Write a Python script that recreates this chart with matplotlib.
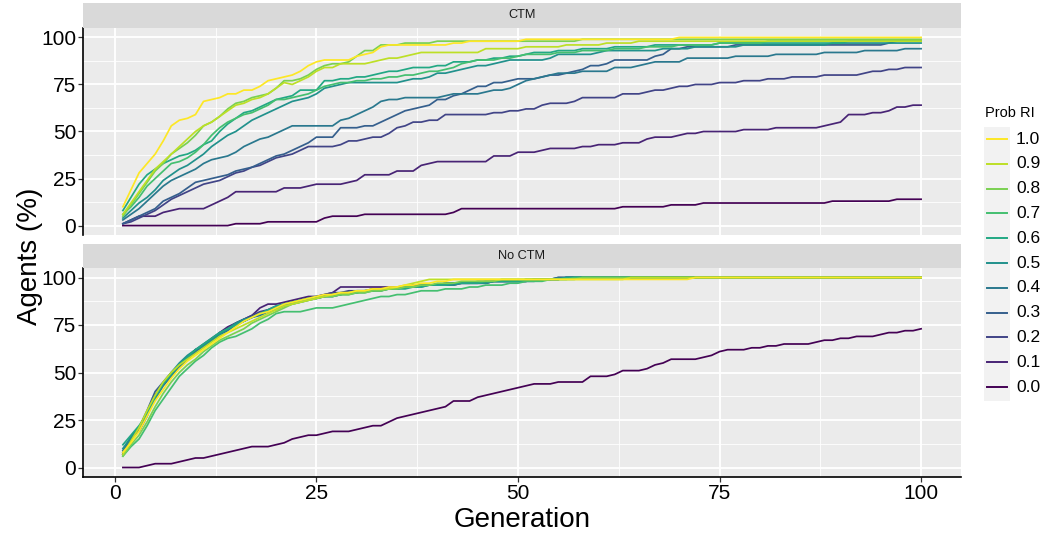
import numpy as np
import matplotlib.pyplot as plt
from matplotlib.lines import Line2D
from matplotlib.patches import Rectangle

plt.rcParams['font.family'] = ['Liberation Sans', 'DejaVu Sans']

generation = np.arange(1, 101)
prob_ri = ['0.0', '0.1', '0.2', '0.3', '0.4', '0.5', '0.6', '0.7', '0.8', '0.9', '1.0']
panel_names = ['CTM', 'No CTM']

# ---- CTM panel (values in % of agents, one per generation) ----
ctm_00 = [0, 0, 0, 0, 0, 0, 0, 0, 0, 0,
          0, 0, 0, 0, 1, 1, 1, 1, 2, 2,
          2, 2, 2, 2, 2, 4, 5, 5, 5, 5,
          6, 6, 6, 6, 6, 6, 6, 6, 6, 6,
          6, 7, 9, 9, 9, 9, 9, 9, 9, 9,
          9, 9, 9, 9, 9, 9, 9, 9, 9, 9,
          9, 9, 10, 10, 10, 10, 10, 10, 11, 11,
          11, 11, 12, 12, 12, 12, 12, 12, 12, 12,
          12, 12, 12, 12, 12, 12, 12, 12, 13, 13,
          13, 13, 13, 13, 13, 13, 14, 14, 14, 14]
ctm_01 = [1, 3, 5, 5, 5, 7, 8, 9, 9, 9,
          9, 11, 13, 15, 18, 18, 18, 18, 18, 18,
          20, 20, 20, 21, 22, 22, 22, 22, 23, 24,
          27, 27, 27, 27, 29, 29, 29, 32, 33, 34,
          34, 34, 34, 34, 34, 34, 37, 37, 37, 39,
          39, 39, 40, 41, 41, 41, 41, 42, 42, 43,
          43, 43, 44, 44, 44, 46, 47, 47, 47, 48,
          49, 49, 50, 50, 50, 50, 50, 51, 51, 51,
          51, 52, 52, 52, 52, 52, 52, 53, 54, 55,
          59, 59, 59, 60, 60, 61, 63, 63, 64, 64]
ctm_02 = [1, 2, 4, 6, 8, 11, 14, 16, 18, 20,
          22, 23, 24, 26, 28, 29, 31, 32, 34, 36,
          37, 38, 40, 42, 42, 42, 42, 43, 45, 45,
          46, 47, 47, 49, 52, 53, 55, 55, 56, 56,
          59, 59, 59, 59, 59, 59, 60, 60, 61, 61,
          62, 62, 64, 65, 65, 65, 66, 68, 68, 68,
          68, 68, 70, 70, 70, 71, 72, 72, 73, 74,
          74, 75, 75, 75, 76, 76, 76, 77, 77, 77,
          78, 78, 78, 79, 79, 79, 79, 80, 80, 80,
          80, 80, 81, 82, 82, 83, 83, 84, 84, 84]
ctm_03 = [1, 3, 5, 7, 9, 13, 15, 17, 20, 23,
          24, 25, 26, 27, 29, 30, 31, 33, 35, 37,
          38, 40, 42, 44, 47, 47, 47, 52, 52, 52,
          53, 53, 55, 57, 59, 61, 62, 63, 64, 67,
          67, 69, 70, 72, 74, 74, 76, 76, 77, 78,
          78, 78, 79, 80, 80, 81, 82, 83, 85, 85,
          86, 88, 88, 88, 88, 88, 90, 91, 94, 94,
          95, 95, 95, 95, 95, 95, 96, 96, 96, 96,
          96, 96, 96, 96, 96, 96, 96, 96, 96, 96,
          96, 96, 96, 96, 96, 97, 98, 98, 98, 98]
ctm_04 = [3, 6, 9, 13, 17, 21, 24, 26, 28, 30,
          33, 35, 36, 37, 39, 42, 44, 46, 47, 49,
          51, 53, 53, 53, 53, 53, 53, 56, 57, 59,
          61, 63, 66, 67, 67, 68, 68, 68, 68, 68,
          69, 70, 70, 70, 70, 71, 72, 72, 73, 75,
          77, 78, 79, 80, 81, 81, 81, 82, 82, 82,
          82, 84, 84, 84, 85, 86, 87, 87, 87, 87,
          89, 89, 89, 89, 89, 89, 90, 90, 90, 90,
          90, 91, 91, 91, 91, 91, 91, 92, 92, 92,
          92, 92, 93, 93, 93, 93, 93, 94, 94, 94]
ctm_05 = [4, 8, 12, 15, 19, 24, 27, 30, 32, 35,
          38, 42, 45, 48, 50, 53, 56, 58, 60, 62,
          64, 66, 67, 68, 70, 73, 74, 75, 76, 76,
          76, 76, 76, 76, 76, 77, 78, 78, 79, 81,
          81, 82, 83, 84, 85, 85, 86, 87, 88, 88,
          88, 88, 88, 89, 91, 91, 91, 91, 91, 92,
          93, 93, 93, 93, 93, 93, 93, 94, 94, 94,
          94, 95, 95, 95, 95, 95, 95, 96, 96, 96,
          96, 96, 96, 96, 96, 96, 96, 96, 97, 97,
          97, 97, 97, 97, 97, 97, 97, 97, 97, 97]
ctm_06 = [8, 15, 22, 27, 30, 33, 35, 37, 38, 40,
          43, 45, 50, 54, 57, 60, 61, 63, 65, 67,
          68, 69, 72, 72, 72, 77, 77, 78, 78, 79,
          79, 80, 81, 82, 82, 83, 84, 84, 84, 85,
          85, 87, 87, 87, 88, 88, 89, 89, 90, 90,
          91, 92, 92, 92, 93, 93, 93, 94, 94, 94,
          94, 95, 95, 95, 95, 95, 96, 96, 96, 96,
          96, 96, 96, 96, 97, 97, 97, 97, 97, 97,
          97, 97, 97, 97, 97, 97, 97, 97, 97, 97,
          98, 98, 98, 98, 98, 98, 98, 98, 98, 98]
ctm_07 = [6, 10, 15, 21, 25, 29, 33, 34, 36, 39,
          43, 48, 52, 55, 57, 59, 60, 62, 64, 67,
          67, 68, 69, 70, 72, 74, 75, 76, 76, 77,
          77, 78, 78, 79, 79, 80, 80, 81, 82, 82,
          83, 84, 86, 87, 88, 88, 88, 89, 89, 90,
          91, 91, 91, 91, 92, 92, 92, 93, 93, 93,
          93, 94, 94, 94, 94, 95, 95, 95, 95, 96,
          96, 96, 96, 96, 97, 97, 97, 97, 97, 97,
          98, 98, 98, 98, 98, 98, 98, 98, 98, 98,
          98, 98, 98, 98, 98, 98, 98, 98, 98, 98]
ctm_08 = [5, 11, 17, 23, 29, 33, 38, 41, 44, 48,
          53, 55, 58, 62, 65, 66, 68, 69, 70, 73,
          77, 77, 78, 80, 83, 85, 86, 86, 87, 90,
          93, 93, 96, 96, 96, 97, 97, 97, 97, 98,
          98, 98, 98, 98, 98, 98, 98, 98, 98, 98,
          98, 98, 98, 98, 98, 98, 98, 99, 99, 99,
          99, 99, 99, 99, 99, 99, 99, 99, 99, 99,
          99, 99, 99, 99, 99, 99, 99, 99, 99, 99,
          99, 99, 99, 99, 99, 99, 99, 99, 99, 99,
          99, 99, 99, 99, 99, 99, 99, 99, 99, 99]
ctm_09 = [6, 12, 18, 24, 30, 34, 38, 42, 46, 50,
          53, 55, 58, 61, 64, 65, 67, 68, 70, 73,
          76, 75, 77, 79, 82, 84, 84, 86, 86, 86,
          86, 87, 88, 89, 89, 90, 91, 92, 92, 92,
          92, 92, 92, 92, 92, 94, 94, 94, 94, 94,
          95, 95, 95, 95, 95, 96, 96, 96, 96, 96,
          97, 97, 97, 97, 98, 98, 98, 98, 98, 98,
          98, 98, 98, 98, 98, 98, 98, 98, 98, 98,
          98, 98, 98, 98, 98, 98, 98, 98, 98, 98,
          98, 98, 98, 98, 98, 98, 98, 98, 98, 98]
ctm_10 = [10, 19, 28, 33, 38, 45, 53, 56, 57, 59,
          66, 67, 68, 70, 70, 72, 72, 74, 77, 78,
          79, 80, 82, 85, 87, 88, 88, 88, 88, 90,
          91, 92, 95, 96, 96, 96, 96, 96, 96, 96,
          96, 97, 97, 98, 98, 98, 98, 98, 98, 98,
          99, 99, 99, 99, 99, 99, 99, 99, 99, 99,
          99, 99, 99, 99, 99, 99, 99, 99, 99, 100,
          100, 100, 100, 100, 100, 100, 100, 100, 100, 100,
          100, 100, 100, 100, 100, 100, 100, 100, 100, 100,
          100, 100, 100, 100, 100, 100, 100, 100, 100, 100]

# ---- No CTM panel ----
noctm_00 = [0, 0, 0, 1, 2, 2, 2, 3, 4, 5,
            5, 6, 7, 8, 9, 10, 11, 11, 11, 12,
            13, 15, 16, 17, 17, 18, 19, 19, 19, 20,
            21, 22, 22, 24, 26, 27, 28, 29, 30, 31,
            32, 35, 35, 35, 37, 38, 39, 40, 41, 42,
            43, 44, 44, 44, 45, 45, 45, 45, 48, 48,
            48, 49, 51, 51, 51, 52, 54, 55, 57, 57,
            57, 57, 58, 59, 61, 62, 62, 62, 63, 63,
            64, 64, 65, 65, 65, 65, 66, 67, 67, 68,
            68, 69, 69, 69, 70, 71, 71, 72, 72, 73]
noctm_01 = [7, 16, 19, 27, 38, 44, 49, 53, 58, 62,
            64, 67, 71, 74, 76, 78, 80, 84, 86, 86,
            87, 88, 89, 90, 90, 91, 92, 95, 95, 95,
            95, 95, 95, 95, 95, 95, 96, 96, 96, 96,
            96, 96, 97, 97, 97, 97, 98, 98, 98, 98,
            98, 99, 99, 99, 99, 100, 100, 100, 100, 100,
            100, 100, 100, 100, 100, 100, 100, 100, 100, 100,
            100, 100, 100, 100, 100, 100, 100, 100, 100, 100,
            100, 100, 100, 100, 100, 100, 100, 100, 100, 100,
            100, 100, 100, 100, 100, 100, 100, 100, 100, 100]
noctm_02 = [7, 15, 20, 28, 38, 44, 49, 53, 57, 61,
            64, 67, 70, 73, 76, 78, 80, 82, 83, 85,
            86, 87, 88, 89, 90, 91, 92, 92, 93, 93,
            93, 94, 94, 94, 95, 95, 96, 96, 96, 96,
            97, 97, 97, 97, 97, 98, 98, 98, 98, 98,
            98, 99, 99, 99, 100, 100, 100, 100, 100, 100,
            100, 100, 100, 100, 100, 100, 100, 100, 100, 100,
            100, 100, 100, 100, 100, 100, 100, 100, 100, 100,
            100, 100, 100, 100, 100, 100, 100, 100, 100, 100,
            100, 100, 100, 100, 100, 100, 100, 100, 100, 100]
noctm_03 = [8, 16, 21, 30, 40, 45, 50, 54, 58, 62,
            65, 68, 71, 73, 75, 77, 79, 81, 83, 84,
            86, 87, 88, 89, 89, 90, 91, 92, 92, 93,
            93, 93, 94, 94, 95, 95, 95, 96, 96, 96,
            96, 97, 97, 97, 97, 97, 98, 98, 98, 98,
            98, 98, 99, 99, 99, 100, 100, 100, 100, 100,
            100, 100, 100, 100, 100, 100, 100, 100, 100, 100,
            100, 100, 100, 100, 100, 100, 100, 100, 100, 100,
            100, 100, 100, 100, 100, 100, 100, 100, 100, 100,
            100, 100, 100, 100, 100, 100, 100, 100, 100, 100]
noctm_04 = [9, 15, 21, 28, 36, 43, 48, 53, 57, 61,
            64, 67, 70, 72, 75, 77, 79, 80, 82, 83,
            85, 86, 87, 88, 89, 90, 90, 91, 92, 92,
            93, 93, 94, 94, 94, 95, 95, 96, 96, 96,
            97, 97, 97, 97, 98, 98, 98, 98, 98, 98,
            99, 99, 99, 99, 100, 100, 100, 100, 100, 100,
            100, 100, 100, 100, 100, 100, 100, 100, 100, 100,
            100, 100, 100, 100, 100, 100, 100, 100, 100, 100,
            100, 100, 100, 100, 100, 100, 100, 100, 100, 100,
            100, 100, 100, 100, 100, 100, 100, 100, 100, 100]
noctm_05 = [10, 16, 21, 29, 37, 44, 50, 55, 59, 62,
            64, 67, 70, 73, 76, 78, 79, 81, 82, 84,
            85, 87, 88, 89, 90, 90, 91, 91, 92, 92,
            93, 93, 93, 94, 94, 95, 95, 95, 96, 96,
            96, 96, 97, 97, 97, 97, 98, 98, 98, 98,
            98, 99, 99, 99, 99, 100, 100, 100, 100, 100,
            100, 100, 100, 100, 100, 100, 100, 100, 100, 100,
            100, 100, 100, 100, 100, 100, 100, 100, 100, 100,
            100, 100, 100, 100, 100, 100, 100, 100, 100, 100,
            100, 100, 100, 100, 100, 100, 100, 100, 100, 100]
noctm_06 = [12, 17, 22, 28, 37, 44, 49, 54, 58, 62,
            65, 68, 71, 73, 75, 77, 79, 81, 83, 85,
            86, 87, 88, 89, 89, 90, 90, 91, 91, 92,
            92, 93, 93, 94, 94, 94, 95, 95, 96, 96,
            96, 97, 97, 97, 97, 98, 98, 98, 98, 98,
            99, 99, 99, 99, 99, 100, 100, 100, 100, 100,
            100, 100, 100, 100, 100, 100, 100, 100, 100, 100,
            100, 100, 100, 100, 100, 100, 100, 100, 100, 100,
            100, 100, 100, 100, 100, 100, 100, 100, 100, 100,
            100, 100, 100, 100, 100, 100, 100, 100, 100, 100]
noctm_07 = [6, 11, 15, 22, 30, 36, 42, 48, 52, 56,
            59, 63, 66, 68, 69, 71, 73, 76, 78, 81,
            82, 82, 82, 83, 84, 84, 84, 85, 86, 87,
            88, 89, 90, 90, 91, 91, 92, 93, 93, 93,
            94, 94, 94, 95, 95, 96, 96, 96, 97, 97,
            98, 98, 98, 99, 99, 99, 100, 100, 100, 100,
            100, 100, 100, 100, 100, 100, 100, 100, 100, 100,
            100, 100, 100, 100, 100, 100, 100, 100, 100, 100,
            100, 100, 100, 100, 100, 100, 100, 100, 100, 100,
            100, 100, 100, 100, 100, 100, 100, 100, 100, 100]
noctm_08 = [6, 12, 17, 24, 32, 39, 45, 50, 54, 57,
            61, 64, 67, 69, 71, 73, 76, 78, 80, 82,
            84, 86, 87, 88, 89, 90, 90, 91, 91, 92,
            92, 93, 93, 94, 94, 95, 95, 96, 96, 97,
            97, 97, 98, 98, 98, 98, 98, 99, 99, 99,
            99, 99, 99, 99, 99, 99, 99, 100, 100, 100,
            100, 100, 100, 100, 100, 100, 100, 100, 100, 100,
            100, 100, 100, 100, 100, 100, 100, 100, 100, 100,
            100, 100, 100, 100, 100, 100, 100, 100, 100, 100,
            100, 100, 100, 100, 100, 100, 100, 100, 100, 100]
noctm_09 = [7, 14, 21, 30, 38, 45, 50, 54, 57, 60,
            63, 66, 69, 71, 73, 75, 77, 79, 81, 83,
            85, 86, 87, 88, 89, 90, 91, 92, 92, 93,
            93, 94, 94, 94, 95, 96, 97, 98, 99, 99,
            99, 99, 99, 99, 99, 99, 99, 99, 99, 99,
            99, 99, 99, 99, 99, 99, 99, 99, 99, 99,
            99, 99, 99, 100, 100, 100, 100, 100, 100, 100,
            100, 100, 100, 100, 100, 100, 100, 100, 100, 100,
            100, 100, 100, 100, 100, 100, 100, 100, 100, 100,
            100, 100, 100, 100, 100, 100, 100, 100, 100, 100]
noctm_10 = [8, 13, 19, 27, 35, 41, 47, 52, 56, 59,
            62, 65, 68, 71, 74, 77, 79, 81, 82, 84,
            86, 87, 88, 89, 90, 91, 91, 92, 92, 93,
            93, 94, 94, 95, 95, 96, 96, 97, 97, 98,
            98, 99, 99, 99, 99, 99, 99, 99, 99, 99,
            99, 99, 99, 99, 99, 99, 99, 99, 99, 99,
            99, 99, 99, 99, 99, 99, 99, 99, 99, 99,
            99, 100, 100, 100, 100, 100, 100, 100, 100, 100,
            100, 100, 100, 100, 100, 100, 100, 100, 100, 100,
            100, 100, 100, 100, 100, 100, 100, 100, 100, 100]

ctm = [ctm_00, ctm_01, ctm_02, ctm_03, ctm_04, ctm_05,
       ctm_06, ctm_07, ctm_08, ctm_09, ctm_10]
no_ctm = [noctm_00, noctm_01, noctm_02, noctm_03, noctm_04, noctm_05,
          noctm_06, noctm_07, noctm_08, noctm_09, noctm_10]

colors = plt.cm.viridis(np.linspace(0, 1, len(prob_ri)))

W, H = 1048, 535
fig = plt.figure(figsize=(W / 100, H / 100), dpi=100)


def box(x0, y0, x1, y1):
    # pixel box (top-left origin) -> figure fraction rect
    return [x0 / W, 1 - y1 / H, (x1 - x0) / W, (y1 - y0) / H]


ax_top = fig.add_axes(box(83, 28, 961, 235))
ax_bot = fig.add_axes(box(83, 268, 961, 477))
strip_top = fig.add_axes(box(83, 3, 961, 28))
strip_bot = fig.add_axes(box(83, 244, 961, 268))

for ax, series, is_bottom in [(ax_top, ctm, False), (ax_bot, no_ctm, True)]:
    ax.set_facecolor('#EBEBEB')
    for i, vals in enumerate(series):
        ax.plot(generation, vals, color=colors[i], lw=1.25, solid_joinstyle='round')
    ax.set_xlim(-3.95, 104.95)
    ax.set_ylim(-5, 105)
    ax.set_xticks([0, 25, 50, 75, 100])
    ax.set_xticks([12.5, 37.5, 62.5, 87.5], minor=True)
    ax.set_yticks([0, 25, 50, 75, 100])
    ax.set_yticks([12.5, 37.5, 62.5, 87.5], minor=True)
    ax.grid(which='major', color='white', lw=1.3)
    ax.grid(which='minor', color='white', lw=0.6)
    ax.set_axisbelow(True)
    for s in ['top', 'right']:
        ax.spines[s].set_visible(False)
    ax.spines['left'].set_color('black')
    ax.spines['left'].set_linewidth(1.2)
    ax.tick_params(which='minor', length=0)
    ax.tick_params(which='major', length=3.5, width=0.9, color='#333333',
                   labelsize=15, labelcolor='black', pad=1.5)
    if is_bottom:
        ax.spines['bottom'].set_color('black')
        ax.spines['bottom'].set_linewidth(1.2)
    else:
        ax.spines['bottom'].set_visible(False)
        ax.tick_params(axis='x', which='major', length=0, labelbottom=False)

for sax, name in [(strip_top, panel_names[0]), (strip_bot, panel_names[1])]:
    sax.set_facecolor('#D9D9D9')
    sax.set_xticks([])
    sax.set_yticks([])
    for s in sax.spines.values():
        s.set_visible(False)
    sax.text(0.5, 0.5, name, ha='center', va='center', fontsize=9.2,
             color='#1A1A1A', transform=sax.transAxes)

fig.text(522 / W, 1 - 520 / H, 'Generation', ha='center', va='center', fontsize=20)
fig.text(30 / W, 1 - 256 / H, 'Agents (%)', ha='center', va='center',
         rotation=90, fontsize=20)

# legend (drawn by hand to mimic ggplot key boxes)
fig.text(985 / W, 1 - 113 / H, 'Prob RI', ha='left', va='center', fontsize=10.5)
fig.add_artist(Rectangle((984 / W, 1 - 401 / H), 25.5 / W, 274 / H,
                         transform=fig.transFigure, facecolor='#F2F2F2',
                         edgecolor='none'))
for k, label in enumerate(prob_ri[::-1]):
    y = 1 - (139 + 24.8 * k) / H
    col = colors[len(prob_ri) - 1 - k]
    fig.add_artist(Line2D([987 / W, 1007 / W], [y, y], transform=fig.transFigure,
                          color=col, lw=1.4))
    fig.text(1016 / W, y, label, ha='left', va='center', fontsize=12.5)

fig.savefig('out.png', dpi=100)
